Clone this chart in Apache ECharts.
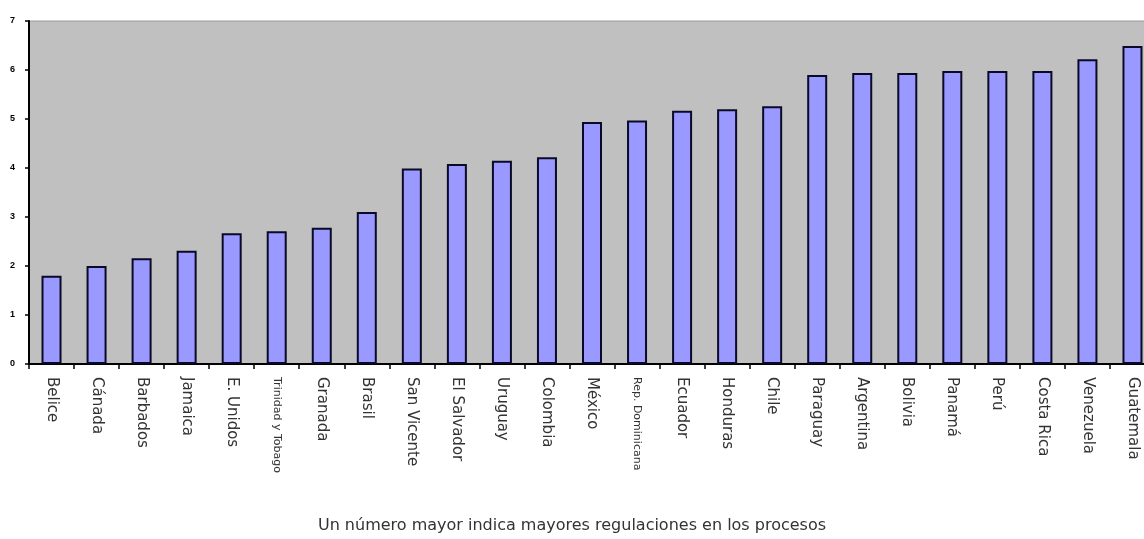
<!DOCTYPE html>
<html>
<head>
<meta charset="utf-8">
<style>
  html, body { margin: 0; padding: 0; background: #ffffff; }
  #chart { width: 1144px; height: 539px; }
</style>
<script src="https://cdn.jsdelivr.net/npm/echarts@6/dist/echarts.min.js"></script>
</head>
<body>
<div id="chart"></div>
<script>
// Countries, ordered from least to most regulated
const countries = [
  'Belice', 'Cánada', 'Barbados', 'Jamaica', 'E. Unidos', 'Trinidad y Tobago',
  'Granada', 'Brasil', 'San Vicente', 'El Salvador', 'Uruguay', 'Colombia',
  'México', 'Rep. Dominicana', 'Ecuador', 'Honduras', 'Chile', 'Paraguay',
  'Argentina', 'Bolivia', 'Panamá', 'Perú', 'Costa Rica', 'Venezuela', 'Guatemala'
];

// Regulation index per country
const indexValues = [
  1.80, 2.00, 2.16, 2.31, 2.67, 2.71,
  2.78, 3.10, 3.99, 4.08, 4.15, 4.22,
  4.94, 4.97, 5.17, 5.20, 5.26, 5.90,
  5.94, 5.94, 5.98, 5.98, 5.98, 6.22, 6.49
];

// Value axis tick labels
const yTicks = [0, 1, 2, 3, 4, 5, 6, 7];

const footnote = 'Un número mayor indica mayores regulaciones en los procesos';

// Long names are set in a smaller face
const smallLabels = ['Trinidad y Tobago', 'Rep. Dominicana'];

const chart = echarts.init(document.getElementById('chart'), null, { renderer: 'canvas' });

chart.setOption({
  animation: false,
  backgroundColor: '#ffffff',
  title: {
    text: footnote,
    left: 'center',
    bottom: 0,
    textStyle: {
      fontFamily: 'DejaVu Sans',
      fontSize: 16,
      fontWeight: 'normal',
      color: '#333333'
    }
  },
  grid: {
    left: 29,
    top: 21,
    right: -11,
    bottom: 175,
    containLabel: false,
    outerBoundsMode: 'none',
    show: true,
    backgroundColor: '#c0c0c0',
    borderColor: '#9a9a9a',
    borderWidth: 1
  },
  xAxis: {
    type: 'category',
    data: countries,
    boundaryGap: true,
    axisLine: { lineStyle: { color: '#000000', width: 2 } },
    axisTick: { show: true, length: 5, lineStyle: { color: '#000000', width: 1.5 } },
    axisLabel: {
      rotate: -90,
      interval: 0,
      margin: 13,
      fontFamily: 'DejaVu Sans',
      fontSize: 15,
      color: '#333333',
      formatter: function (v) {
        return smallLabels.indexOf(v) >= 0 ? '{s|' + v + '}' : v;
      },
      rich: {
        s: { fontFamily: 'DejaVu Sans', fontSize: 11, color: '#333333' }
      }
    },
    splitLine: { show: false }
  },
  yAxis: {
    type: 'value',
    min: yTicks[0],
    max: yTicks[yTicks.length - 1],
    interval: 1,
    axisLine: { show: true, lineStyle: { color: '#000000', width: 2 } },
    axisTick: { show: true, length: 4, lineStyle: { color: '#000000', width: 1.5 } },
    axisLabel: {
      margin: 14,
      fontFamily: 'Liberation Sans',
      fontWeight: 'bold',
      fontSize: 9,
      color: '#000000'
    },
    splitLine: { show: false }
  },
  series: [{
    type: 'bar',
    data: indexValues,
    barWidth: 20,
    itemStyle: {
      color: '#9999ff',
      borderColor: '#0a0a28',
      borderWidth: 2
    }
  }]
});
</script>
</body>
</html>
